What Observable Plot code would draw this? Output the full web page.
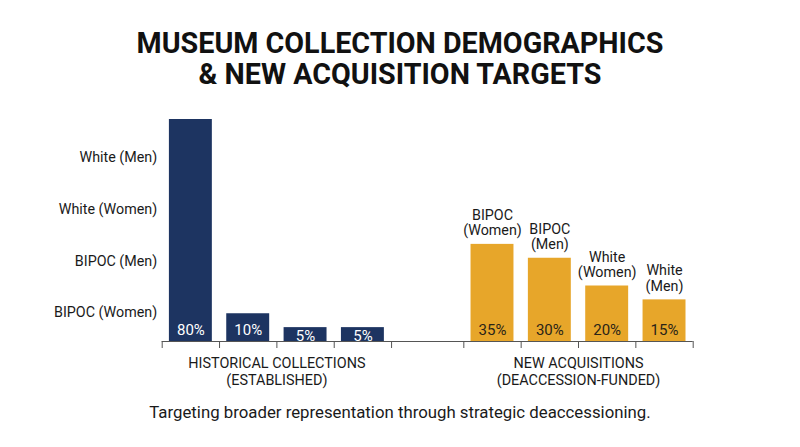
<!DOCTYPE html>
<html>
<head>
<meta charset="utf-8">
<script src="https://cdn.jsdelivr.net/npm/d3@7"></script>
<script src="https://cdn.jsdelivr.net/npm/@observablehq/plot@0.6"></script>
<style>
  html, body { margin: 0; padding: 0; background: #fff; }
  body { width: 800px; height: 447px; overflow: hidden; font-family: Roboto, "Noto Sans", sans-serif; }
  #title { box-sizing: border-box; height: 100px; padding-top: 27.5px; text-align: center;
           font-size: 28.7px; line-height: 31.7px; font-weight: 700; color: #111; }
  #chart svg { display: block; }
  #caption { margin-top: 6.5px; text-align: center; font-size: 16.8px; line-height: 20px; color: #1a1a1a; }
</style>
</head>
<body>
<div id="title">MUSEUM COLLECTION DEMOGRAPHICS<br>&amp; NEW ACQUISITION TARGETS</div>
<div id="chart"></div>
<div id="caption">Targeting broader representation through strategic deaccessioning.</div>
<script>
// ---- data ----
const groupLabels = ["HISTORICAL COLLECTIONS\n(ESTABLISHED)", "NEW ACQUISITIONS\n(DEACCESSION-FUNDED)"];
const historicalValues = [80, 10, 5, 5];
const newCategories = ["BIPOC\n(Women)", "BIPOC\n(Men)", "White\n(Women)", "White\n(Men)"];
const newValues = [35, 30, 20, 15];
const yTickLabels = ["BIPOC (Women)", "BIPOC (Men)", "White (Women)", "White (Men)"];
const yTickValues = [10.3, 29, 47.7, 66.3];
const groupColors = ["#1d3461", "#e7a62a"];
const labelColors = ["#ffffff", "#2a2418"];

// ---- layout helpers ----
const GAP = 1.26; // spacing between the two groups, in bar slots
const rows = [];
[historicalValues, newValues].forEach((vals, g) => {
  vals.forEach((v, i) => rows.push({
    g, i, pos: g * (4 + GAP) + i, value: v,
    category: g === 1 ? newCategories[i] : null
  }));
});
const edges = [];
[0, 1].forEach(g => { for (let i = 0; i <= 4; i++) edges.push(g * (4 + GAP) + i); });
const groups = groupLabels.map((label, g) => ({label, center: g * (4 + GAP) + 2}));

const plot = Plot.plot({
  width: 800,
  height: 295,
  marginTop: 19,
  marginBottom: 54,
  marginLeft: 161.7,
  marginRight: 107.3,
  style: {fontFamily: "Roboto, sans-serif", fontSize: "14px", color: "#1a1a1a"},
  x: {type: "linear", domain: [0, 8 + GAP]},
  y: {domain: [0, 80]},
  marks: [
    Plot.rectY(rows, {
      x1: "pos", x2: d => d.pos + 1, y1: 0, y2: "value",
      fill: d => groupColors[d.g], insetLeft: 7.2, insetRight: 7.2
    }),
    Plot.text(rows, {
      x: d => d.pos + 0.5, y: d => Math.min(d.value - 3, 4),
      text: d => d.value + "%", fill: d => labelColors[d.g],
      fontSize: 15
    }),
    Plot.text(rows.filter(d => d.category), {
      x: d => d.pos + 0.5, y: "value", text: "category",
      lineAnchor: "bottom", dy: -9, fontSize: 14.3, lineHeight: 1.08, fill: "#1a1a1a"
    }),
    Plot.ruleY([0], {stroke: "#555", strokeWidth: 1.2}),
    Plot.axisX({ticks: edges, tickFormat: () => "", tickSize: 7, stroke: "#555", label: null}),
    Plot.axisY({ticks: yTickValues, tickFormat: (d, i) => yTickLabels[i], tickSize: 0,
      tickPadding: 5, fontSize: 14.3, label: null, fill: "#1a1a1a"}),
    Plot.text(groups, {
      x: "center", y: 0, text: "label", lineAnchor: "top", dy: 14,
      fontSize: 14.4, lineHeight: 1.18, fill: "#1a1a1a"
    })
  ]
});
document.getElementById("chart").appendChild(plot);
</script>
</body>
</html>
